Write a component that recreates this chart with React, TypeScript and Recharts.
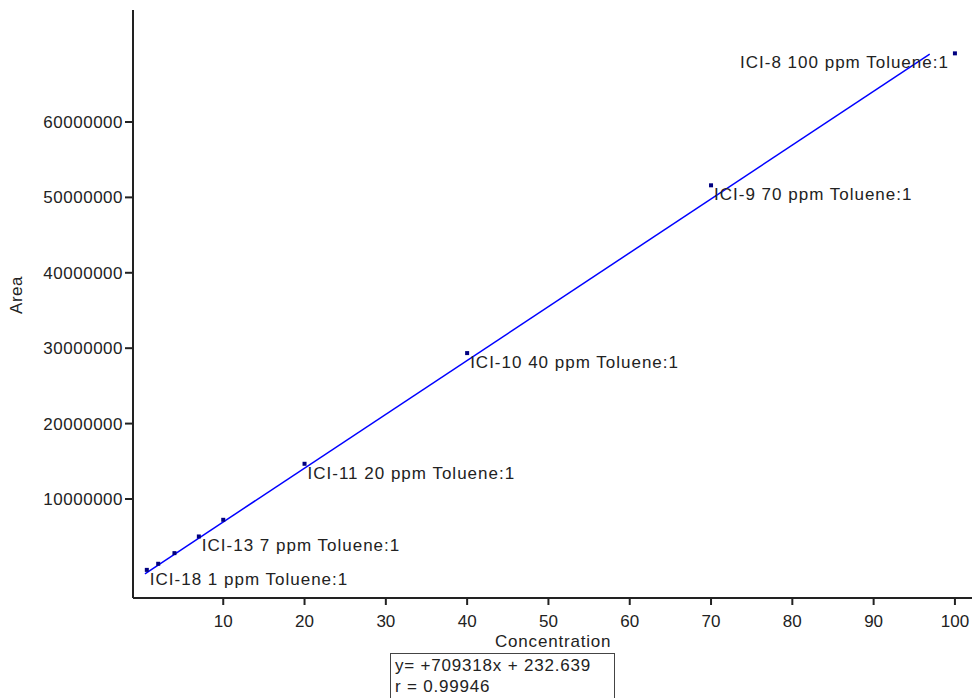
import { ComposedChart, Scatter, XAxis, YAxis } from 'recharts';

// calibration points
const concentration = [0.6, 2, 4, 7, 10, 20, 40, 70, 100];
const area = [600000, 1410000, 2820000, 5030000, 7240000, 14670000, 29350000, 51600000, 69100000];
const sampleNames = ['ICI-18 1 ppm Toluene:1', '', '', 'ICI-13 7 ppm Toluene:1', '', 'ICI-11 20 ppm Toluene:1', 'ICI-10 40 ppm Toluene:1', 'ICI-9 70 ppm Toluene:1', 'ICI-8 100 ppm Toluene:1'];

// regression line end points
const fitX = [0.37, 96.9];
const fitY = [80000, 69000000];

const xTicks = [10, 20, 30, 40, 50, 60, 70, 80, 90, 100];
const yTicks = [10000000, 20000000, 30000000, 40000000, 50000000, 60000000];

const points = concentration.map((x, i) => ({ x, y: area[i], name: sampleNames[i] }));
const fitLine = fitX.map((x, i) => ({ x, y: fitY[i] }));

const FONT = '"Liberation Sans", Arial, sans-serif';

const PointShape = (props: any) => {
    const { cx, cy, payload } = props;
    const right = payload.x >= 100;
    return (
        <g>
            <rect x={cx - 2} y={cy - 2} width={4} height={4} fill="#000080" />
            {payload.name && (
                <text
                    x={right ? cx - 6 : cx + 3}
                    y={cy + 15}
                    textAnchor={right ? 'end' : 'start'}
                    fontSize={17}
                    letterSpacing={1}
                    fontFamily={FONT}
                    fill="#222"
                >
                    {payload.name}
                </text>
            )}
        </g>
    );
};

export default function App() {
    return (
        <div style={{ position: 'absolute', left: 0, top: 0, width: 974, height: 698, overflow: 'hidden', background: '#fff' }}>
            <ComposedChart width={974} height={698} margin={{ top: 10, right: 2, left: 0, bottom: 0 }}>
                <XAxis
                    type="number"
                    dataKey="x"
                    domain={[-1.1, 102.1]}
                    ticks={xTicks}
                    allowDataOverflow
                    height={100}
                    tickSize={7}
                    tickMargin={10}
                    axisLine={{ stroke: '#222', strokeWidth: 2 }}
                    tickLine={{ stroke: '#222', strokeWidth: 2 }}
                    tick={{ fontSize: 17, fill: '#222', fontFamily: FONT }}
                />
                <YAxis
                    type="number"
                    dataKey="y"
                    domain={[-3130000, 74850000]}
                    ticks={yTicks}
                    allowDataOverflow
                    width={133}
                    tickSize={8}
                    tickMargin={2}
                    axisLine={{ stroke: '#222', strokeWidth: 2 }}
                    tickLine={{ stroke: '#222', strokeWidth: 2 }}
                    tick={{ fontSize: 17, fill: '#222', fontFamily: FONT, letterSpacing: 0.5 }}
                />
                <Scatter
                    data={fitLine}
                    line={{ stroke: '#0000ff', strokeWidth: 1.5 }}
                    shape={() => null}
                    isAnimationActive={false}
                />
                <Scatter data={points} shape={<PointShape />} isAnimationActive={false} />
            </ComposedChart>
            <div
                style={{
                    position: 'absolute', left: 8, top: 295, transform: 'translate(-50%, -50%) rotate(-90deg)',
                    marginLeft: 9, fontFamily: FONT, fontSize: 17, color: '#222', letterSpacing: 0.5,
                }}
            >
                Area
            </div>
            <div
                style={{
                    position: 'absolute', left: 495, top: 632, fontFamily: FONT, fontSize: 17,
                    color: '#222', letterSpacing: 0.8, lineHeight: '20px',
                }}
            >
                Concentration
            </div>
            <div
                style={{
                    position: 'absolute', left: 390, top: 653, width: 225, height: 60,
                    border: '1px solid #444', boxSizing: 'border-box', padding: '1px 0 0 4px',
                    fontFamily: FONT, fontSize: 17, color: '#222', letterSpacing: 0.8, lineHeight: '21px',
                }}
            >
                <div>y= +709318x + 232.639</div>
                <div>r = 0.99946</div>
            </div>
        </div>
    );
}
